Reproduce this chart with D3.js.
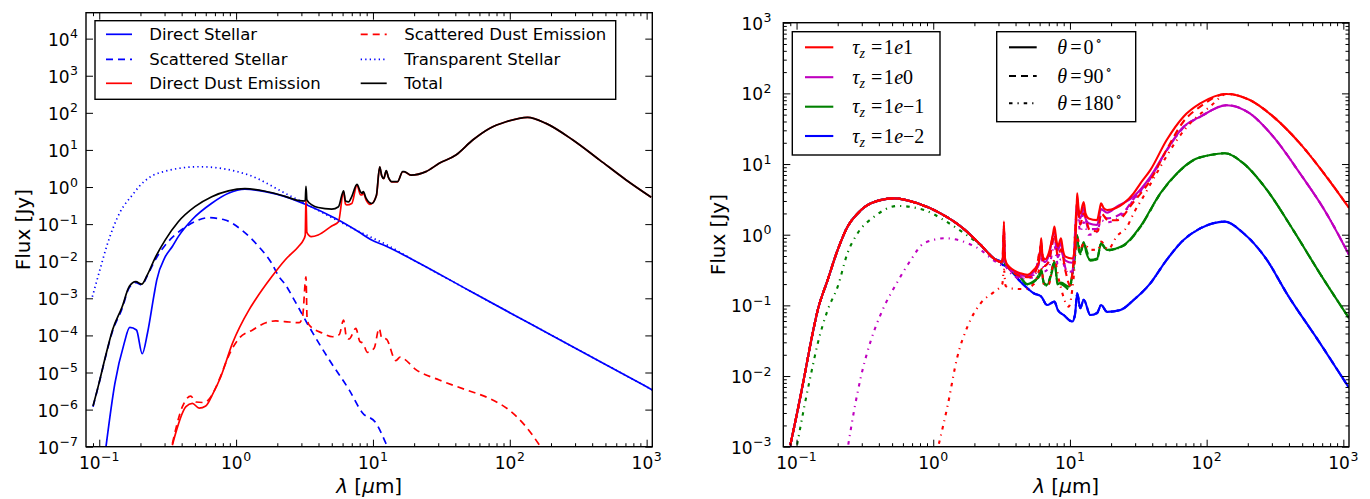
<!DOCTYPE html>
<html><head><meta charset="utf-8">
<script src="https://cdn.jsdelivr.net/npm/d3@7"></script>
<style>
body{margin:0;background:#fff}
svg{display:block}
text{font-family:"DejaVu Sans",sans-serif;fill:#000}
.math{font-family:"Liberation Serif","DejaVu Serif",serif}
</style>
</head><body>
<script>
// ---------------- DATA (wavelength in micron, flux in Jy) ----------------
const xTickExps = [-1, 0, 1, 2, 3];
const yTickExpsLeft = [-7, -6, -5, -4, -3, -2, -1, 0, 1, 2, 3, 4];
const yTickExpsRight = [-3, -2, -1, 0, 1, 2, 3];

// Left panel series
const directStellar = [[0.112,1.0e-7],[0.13,5e-6],[0.152,6.1e-5],[0.167,1.65e-4],[0.187,1.4e-4],[0.206,3.2e-5],[0.225,1.14e-4],[0.251,1.2e-3],[0.263,3.1e-3],[0.303,0.013],[0.342,0.025],[0.378,0.046],[0.474,0.129],[0.664,0.364],[0.879,0.676],[1.16,0.87],[1.63,0.75],[2.28,0.55],[3.2,0.342],[5.3,0.143],[7.85,0.062],[9.7,0.038],[12.3,0.026],[20,0.0105],[50,1.65e-3],[100,4.1e-4],[200,1.03e-4],[500,1.65e-5],[1100,3.4e-6]];
const scatteredStellar = [[0.09,1.2e-6],[0.0995,5e-6],[0.111,2.6e-5],[0.125,1.3e-4],[0.147,5.3e-4],[0.165,1.9e-3],[0.185,2.65e-3],[0.204,2.3e-3],[0.224,4e-3],[0.255,0.0105],[0.303,0.027],[0.358,0.051],[0.424,0.082],[0.5,0.117],[0.627,0.149],[0.83,0.129],[1.1,0.069],[1.46,0.025],[1.82,8.8e-3],[2.06,3.8e-3],[2.28,2.4e-3],[2.62,1e-3],[3.42,1.7e-4],[4.79,2.2e-5],[6.7,3.4e-6],[8.4,8.1e-7],[10.5,4.4e-7],[12.4,1.26e-7],[12.9,9e-8]];
const directDust = [[0.342,1.1e-7],[0.43,1.2e-6],[0.479,1.47e-6],[0.537,1.1e-6],[0.6,1.25e-6],[0.67,2.5e-6],[0.773,7.7e-6],[0.94,6.1e-5],[1.24,4.8e-4],[1.38,9e-4],[1.82,3.8e-3],[2.28,0.0108],[2.86,0.025],[3.1,0.037],[3.2,0.05],[3.24,0.5],[3.29,0.06],[3.54,0.046],[3.98,0.051],[5.0,0.089],[5.6,0.116],[6.1,0.75],[6.3,0.35],[6.45,0.33],[7.0,0.36],[7.64,1.13],[8.1,0.62],[8.3,0.61],[8.5,0.7],[8.9,0.45],[9.55,0.34],[10.6,0.58],[11.2,3.45],[11.6,1.98],[12.0,1.68],[12.5,2.72],[13.0,1.78],[13.8,1.37],[15.1,1.37],[16.5,2.58],[16.9,2.58],[19,2.09],[24.4,2.6],[30.5,4.35],[40.4,7.3],[53.6,18.5],[71,38],[94,57.5],[135,75.6],[184,52],[289,18.5],[452,5.4],[708,1.55],[1080,0.53]];
const scatteredDust = [[0.342,1.2e-7],[0.405,1.2e-6],[0.466,2.3e-6],[0.507,1.6e-6],[0.583,1.55e-6],[0.653,2.2e-6],[0.751,6.3e-6],[0.889,3e-5],[1.05,8.3e-5],[1.32,1.4e-4],[1.65,2.2e-4],[1.95,2.45e-4],[2.44,2.3e-4],[2.89,2.2e-4],[3.06,3.2e-4],[3.24,3.8e-3],[3.3,3e-4],[3.42,1.9e-4],[4.28,1.15e-4],[5.07,9.2e-5],[5.67,1.05e-4],[6.1,2.6e-4],[6.4,9e-5],[6.7,8e-5],[7.5,1.55e-4],[8.0,7e-5],[8.5,6e-5],[9.1,3.5e-5],[10.2,4.5e-5],[11.1,1.55e-4],[11.6,8.5e-5],[12.5,8e-5],[14.7,2.1e-5],[15.8,2.6e-5],[16.5,2.45e-5],[20.6,1.2e-5],[30.5,6.3e-6],[48,3.4e-6],[71,2e-6],[99,9.7e-7],[131,3.5e-7],[165,1.1e-7],[175,8e-8]];
const transparentStellar = [[0.089,1.1e-3],[0.101,5.8e-3],[0.114,0.027],[0.126,0.078],[0.141,0.2],[0.177,0.65],[0.195,1.02],[0.273,2.4],[0.537,3.52],[1.24,2.1],[2.28,0.68],[3.2,0.36],[5,0.15],[7.85,0.064],[10,0.042],[12.3,0.029],[20,0.0105],[50,1.65e-3],[100,4.1e-4],[200,1.03e-4],[500,1.65e-5],[1100,3.4e-6]];
const totalFlux = [[0.09,1.25e-6],[0.0995,5.1e-6],[0.111,2.7e-5],[0.125,1.4e-4],[0.147,5.9e-4],[0.166,2.1e-3],[0.185,2.8e-3],[0.204,2.4e-3],[0.224,4.2e-3],[0.255,0.012],[0.303,0.037],[0.378,0.116],[0.5,0.295],[0.664,0.55],[0.879,0.79],[1.16,0.9],[1.63,0.77],[2.28,0.56],[2.9,0.43],[3.2,0.42],[3.24,1.05],[3.29,0.45],[3.58,0.33],[3.98,0.28],[5.0,0.255],[5.6,0.295],[6.1,0.79],[6.3,0.42],[6.64,0.4],[7.0,0.55],[7.64,1.18],[8.1,0.75],[8.3,0.68],[8.5,0.75],[8.9,0.5],[9.8,0.36],[10.6,0.6],[11.2,3.5],[11.6,2.0],[12.0,1.7],[12.5,2.75],[13.0,1.8],[13.8,1.39],[15.1,1.39],[16.5,2.6],[16.9,2.6],[19,2.1],[24.4,2.6],[30.5,4.35],[40.4,7.3],[53.6,18.5],[71,38],[94,57.5],[135,75.6],[184,52],[289,18.5],[452,5.4],[708,1.55],[1080,0.53]];

// Right panel series
const rightUV = [[0.09,1.05e-3],[0.102,3.3e-3],[0.114,9.8e-3],[0.128,0.032],[0.143,0.086],[0.169,0.23],[0.2,0.61],[0.236,1.3],[0.28,2.0],[0.35,2.78],[0.517,3.27],[0.767,2.78],[1.13,2.0],[1.62,1.27],[2.22,0.72],[2.78,0.46],[3.11,0.41]];
const tau10_th0_IR = [[3.2,0.43],[3.25,0.6],[3.29,1.53],[3.33,0.5],[3.47,0.38],[4.35,0.284],[4.87,0.27],[5.45,0.32],[5.9,0.4],[6.1,0.7],[6.17,0.89],[6.3,0.5],[6.6,0.45],[7.0,0.55],[7.5,1.0],[7.7,1.3],[7.95,0.85],[8.15,0.68],[8.6,0.89],[8.9,0.6],[9.27,0.49],[10.4,0.46],[10.9,0.7],[11.2,2.5],[11.3,3.85],[11.6,2.2],[11.9,2.0],[12.6,2.9],[13.0,2.0],[13.7,1.7],[15.8,1.61],[16.5,2.3],[16.9,2.78],[17.6,2.4],[18.7,2.24],[24.7,2.78],[29.2,3.85],[32.7,5.3],[38.7,8.2],[51,21.9],[67.7,46.8],[89.8,72],[140,98],[207,80.5],[307,46.8],[481,19.6],[753,6.6],[1100,2.4]];
const tau10_th90_IR = [[3.2,0.42],[3.29,1.2],[3.35,0.42],[3.47,0.37],[4.35,0.26],[5.0,0.25],[5.6,0.3],[6.17,0.7],[6.44,0.36],[7.0,0.42],[7.7,1.0],[8.15,0.5],[8.6,0.62],[9.3,0.3],[10.0,0.19],[10.6,0.4],[11.3,2.8],[11.9,1.4],[12.6,2.0],[14,1.15],[16,1.12],[16.9,2.0],[19,1.6],[22,1.6],[29.2,2.9],[38.7,5.9],[51,16],[67.7,40],[89.8,65],[140,98],[207,80.5],[307,46.8],[481,19.6],[753,6.6],[1100,2.4]];
const tau10_th180 = [[1.1,1.1e-3],[1.27,3.7e-3],[1.5,0.0186],[1.78,0.05],[2.22,0.107],[2.78,0.155],[3.2,0.2],[3.29,0.32],[3.38,0.19],[3.68,0.174],[4.6,0.17],[5.45,0.2],[6.17,0.35],[6.44,0.2],[7.0,0.2],[7.7,0.44],[8.3,0.23],[9.8,0.096],[10.6,0.23],[11.3,0.93],[11.9,0.61],[12.6,0.75],[14.1,0.61],[16.2,0.62],[16.9,0.8],[19,0.62],[22,0.95],[26.2,1.3],[29.2,2.0],[34.6,3.5],[45.8,9.1],[60.7,22],[80,42],[106,65],[140,98],[207,80.5],[307,46.8],[481,19.6],[753,6.6],[1100,2.4]];
const tau1_th0_IR = [[3.2,0.41],[3.25,0.55],[3.29,1.35],[3.33,0.47],[3.47,0.36],[4.35,0.27],[4.87,0.255],[5.45,0.3],[5.9,0.37],[6.17,0.78],[6.3,0.46],[6.6,0.41],[7.0,0.5],[7.7,1.12],[7.95,0.75],[8.15,0.6],[8.6,0.77],[8.9,0.52],[9.27,0.43],[10.4,0.4],[10.9,0.62],[11.3,3.3],[11.6,1.9],[11.9,1.7],[12.6,2.45],[13.0,1.7],[13.7,1.45],[15.8,1.37],[16.9,2.3],[18.7,2.05],[22,2.5],[29.2,3.47],[38.7,6.6],[51,15.8],[67.7,33.6],[89.8,46.8],[140,68],[207,52],[307,24.4],[481,7.4],[753,2.0],[1100,0.52]];
const tau1_th90_IR = [[3.2,0.4],[3.29,1.1],[3.35,0.4],[3.47,0.36],[4.35,0.25],[5.45,0.27],[6.17,0.6],[6.44,0.36],[7.0,0.42],[7.7,0.9],[8.15,0.48],[8.6,0.6],[9.5,0.3],[10.4,0.3],[11.3,2.6],[11.9,1.4],[12.6,2.0],[13.7,1.2],[15.8,1.2],[16.9,1.9],[18.7,1.7],[24.7,2.1],[29.2,3.2],[38.7,6.3],[51,15.5],[67.7,33],[89.8,46.5],[140,68],[207,52],[307,24.4],[481,7.4],[753,2.0],[1100,0.52]];
const tau1_th180 = [[0.239,1.07e-3],[0.264,3.3e-3],[0.296,9.8e-3],[0.35,0.032],[0.426,0.086],[0.548,0.216],[0.686,0.44],[0.857,0.76],[1.23,0.89],[1.78,0.76],[2.22,0.61],[2.78,0.43],[3.2,0.37],[3.29,0.8],[3.38,0.36],[4.35,0.24],[5.45,0.25],[6.17,0.5],[6.44,0.3],[7.0,0.34],[7.7,0.7],[8.15,0.38],[8.6,0.45],[9.5,0.3],[10.4,0.28],[11.3,2.0],[11.9,1.1],[12.6,1.5],[13.7,1.0],[15.8,1.1],[16.9,1.6],[18.7,1.5],[24.7,2.0],[29.2,3.1],[38.7,6.2],[51,15.5],[67.7,33],[89.8,46.5],[140,68],[207,52],[307,24.4],[481,7.4],[753,2.0],[1100,0.52]];
const tau01_th0_IR = [[3.2,0.4],[3.29,0.6],[3.35,0.39],[3.47,0.36],[4.35,0.25],[4.87,0.2],[5.6,0.23],[6.0,0.26],[6.17,0.32],[6.44,0.21],[6.8,0.195],[7.4,0.3],[7.7,0.42],[8.15,0.2],[8.6,0.21],[9.8,0.184],[10.7,0.4],[11.3,0.99],[11.6,0.6],[11.9,0.55],[12.6,0.79],[13.2,0.55],[14.1,0.44],[15.8,0.46],[16.9,0.76],[18.7,0.61],[24.7,0.71],[32.7,1.3],[45.8,3.85],[60.7,7.4],[80,11.4],[106,13.4],[136,14.2],[186,10.2],[276,4.3],[430,1.16],[673,0.284],[1100,0.066]];
const tau01_th90_IR = [[3.2,0.4],[3.29,0.55],[3.35,0.39],[3.47,0.355],[4.35,0.245],[4.87,0.197],[5.6,0.225],[6.17,0.3],[6.44,0.205],[6.8,0.19],[7.7,0.4],[8.15,0.195],[8.6,0.2],[9.8,0.17],[10.7,0.38],[11.3,0.95],[11.9,0.53],[12.6,0.76],[14.1,0.43],[15.8,0.45],[16.9,0.74],[18.7,0.6],[24.7,0.7],[32.7,1.28],[45.8,3.8],[60.7,7.3],[80,11.3],[106,13.4],[136,14.2],[186,10.2],[276,4.3],[430,1.16],[673,0.284],[1100,0.066]];
const tau01_th180_UV = [[0.101,1.07e-3],[0.114,3.7e-3],[0.128,0.011],[0.143,0.029],[0.169,0.086],[0.2,0.184],[0.236,0.55],[0.28,1.05],[0.37,1.8],[0.548,2.55],[0.857,2.24],[1.2,1.6],[1.68,1.05],[2.22,0.7],[2.78,0.46],[3.11,0.41]];
const tau001_IR = [[3.2,0.38],[3.47,0.35],[4.35,0.216],[5.45,0.148],[6.17,0.133],[6.8,0.101],[7.7,0.113],[8.15,0.086],[9.0,0.073],[10.4,0.059],[10.9,0.075],[11.3,0.148],[11.9,0.091],[12.6,0.12],[14.1,0.073],[15.8,0.078],[16.9,0.101],[18.7,0.081],[23.4,0.086],[29.2,0.119],[38.7,0.205],[51,0.44],[67.7,0.84],[89.8,1.23],[136,1.53],[186,1.05],[276,0.44],[385,0.148],[673,0.0295],[1100,6.8e-3]];

const leftLegend = ["Direct Stellar","Scattered Stellar","Direct Dust Emission","Scattered Dust Emission","Transparent Stellar","Total"];
const tauLabels = ["1","0","\u22121","\u22122"];
const thetaLabels = ["0","90","180"];

// ---------------- LAYOUT ----------------
const W = 1370, H = 499;
const L = {x0:86, x1:652.3, y0:12.7, y1:446.7};
const R = {x0:783.3, x1:1349, y0:22.7, y1:446.7};
const xDomain = [0.08, 1100];
const xL = d3.scaleLog().domain(xDomain).range([L.x0, L.x1]);
const yL = d3.scaleLog().domain([1e-7, 5e4]).range([L.y1, L.y0]);
const xR = d3.scaleLog().domain(xDomain).range([R.x0, R.x1]);
const yR = d3.scaleLog().domain([1e-3, 1e3]).range([R.y1, R.y0]);

const BLUE = "#0000ff", RED = "#ff0000", MAG = "#bf00bf", GREEN = "#008000", BLACK = "#000000";
const DASH = "7,5", DOT = "1.3,3.2", DASHDOT = "3.5,5,1.2,5";
const TICK_FS = 17, SUP_FS = 12.5, LAB_FS = 20, LEG_FS = 16.5, MATH_FS = 20;

const svg = d3.select("body").append("svg").attr("width", W).attr("height", H);
const defs = svg.append("defs");
[["clipL", L], ["clipR", R]].forEach(([id, P]) => {
  defs.append("clipPath").attr("id", id).append("rect")
    .attr("x", P.x0).attr("y", P.y0).attr("width", P.x1 - P.x0).attr("height", P.y1 - P.y0);
});

function minorTicks(lo, hi) {
  const out = [];
  for (let e = -3; e <= 5; e++) for (let k = 2; k <= 9; k++) {
    const v = k * Math.pow(10, e);
    if (v > lo && v < hi) out.push(v);
  }
  return out;
}
function expStr(e) { return e < 0 ? "\u2212" + Math.abs(e) : String(e); }

function drawAxes(P, x, y, yExps, yMinor, yLabelRight, yLabelX) {
  const g = svg.append("g");
  const xMaj = xTickExps.map(e => Math.pow(10, e));
  const xMin = minorTicks(xDomain[0], xDomain[1]);
  const yMaj = yExps.map(e => Math.pow(10, e));
  const yMin = yMinor ? minorTicks(y.domain()[0], y.domain()[1]) : [];
  const specs = [
    [d3.axisBottom, x, `translate(0,${P.y1})`, xMaj, xMin],
    [d3.axisTop, x, `translate(0,${P.y0})`, xMaj, xMin],
    [d3.axisLeft, y, `translate(${P.x0},0)`, yMaj, yMin],
    [d3.axisRight, y, `translate(${P.x1},0)`, yMaj, yMin]
  ];
  specs.forEach(([fn, sc, tr, maj, mn]) => {
    const a1 = g.append("g").attr("transform", tr).call(fn(sc).tickValues(maj).tickSize(-7).tickFormat(""));
    const a2 = g.append("g").attr("transform", tr).call(fn(sc).tickValues(mn).tickSize(-3.5).tickFormat(""));
    [a1, a2].forEach(a => { a.select(".domain").remove(); a.selectAll("line").attr("stroke", "#000").attr("stroke-width", 1); });
  });
  g.append("rect").attr("x", P.x0).attr("y", P.y0).attr("width", P.x1 - P.x0).attr("height", P.y1 - P.y0)
    .attr("fill", "none").attr("stroke", "#000").attr("stroke-width", 1.4);
  // x tick labels
  xTickExps.forEach(e => {
    const t = g.append("text").attr("x", x(Math.pow(10, e))).attr("y", 468.5).attr("text-anchor", "middle").attr("font-size", TICK_FS);
    t.append("tspan").text("10");
    t.append("tspan").attr("dy", -7.5).attr("dx", 0.5).attr("font-size", SUP_FS).text(expStr(e));
  });
  // y tick labels
  yExps.forEach(e => {
    const t = g.append("text").attr("x", yLabelRight).attr("y", y(Math.pow(10, e)) + 7).attr("text-anchor", "end").attr("font-size", TICK_FS);
    t.append("tspan").text("10");
    t.append("tspan").attr("dy", -7.5).attr("dx", 0.5).attr("font-size", SUP_FS).text(expStr(e));
  });
  // axis labels
  g.append("text").attr("transform", `translate(${yLabelX},${(P.y0 + P.y1) / 2}) rotate(-90)`)
    .attr("text-anchor", "middle").attr("font-size", LAB_FS).text("Flux [Jy]");
  const xl = g.append("text").attr("x", (P.x0 + P.x1) / 2).attr("y", 492.5).attr("text-anchor", "middle").attr("font-size", LAB_FS);
  xl.append("tspan").attr("font-style", "italic").text("λ");
  xl.append("tspan").text(" [");
  xl.append("tspan").attr("font-style", "italic").text("μ");
  xl.append("tspan").text("m]");
}

function drawSeries(clip, x, y, data, color, dash, width) {
  const line = d3.line().x(d => x(d[0])).y(d => y(d[1])).curve(d3.curveMonotoneX);
  svg.append("path").attr("clip-path", `url(#${clip})`).attr("d", line(data))
    .attr("fill", "none").attr("stroke", color).attr("stroke-width", width)
    .attr("stroke-dasharray", dash || null).attr("stroke-linejoin", "round");
}

// ---------------- LEFT PANEL ----------------
const LW = 1.7;
drawSeries("clipL", xL, yL, directStellar, BLUE, null, LW);
drawSeries("clipL", xL, yL, scatteredStellar, BLUE, DASH, LW);
drawSeries("clipL", xL, yL, directDust, RED, null, LW);
drawSeries("clipL", xL, yL, scatteredDust, RED, DASH, LW);
drawSeries("clipL", xL, yL, transparentStellar, BLUE, DOT, LW);
drawSeries("clipL", xL, yL, totalFlux, BLACK, null, LW);
drawAxes(L, xL, yL, yTickExpsLeft, false, 78, 30);

// left legend
const legL = svg.append("g");
legL.append("rect").attr("x", 95).attr("y", 20.7).attr("width", 520.7).attr("height", 78.6)
  .attr("fill", "#fff").attr("stroke", "#000").attr("stroke-width", 1.4);
const legStyles = [[BLUE, null], [BLUE, DASH], [RED, null], [RED, DASH], [BLUE, DOT], [BLACK, null]];
const legRows = [34.3, 59.3, 83.3];
leftLegend.forEach((name, i) => {
  const col = Math.floor(i / 3), row = i % 3;
  const lx = col === 0 ? 106 : 360.7, tx = col === 0 ? 149.3 : 404.3;
  const yy = legRows[row];
  legL.append("line").attr("x1", lx).attr("x2", lx + 26).attr("y1", yy).attr("y2", yy)
    .attr("stroke", legStyles[i][0]).attr("stroke-width", LW).attr("stroke-dasharray", legStyles[i][1]);
  legL.append("text").attr("x", tx).attr("y", yy + 6).attr("font-size", LEG_FS).text(name);
});

// ---------------- RIGHT PANEL ----------------
const RW = 2.1;
const rightSeries = [
  [rightUV.concat(tau001_IR), BLUE, DASHDOT],
  [rightUV.concat(tau001_IR), BLUE, DASH],
  [rightUV.concat(tau001_IR), BLUE, null],
  [tau01_th180_UV.concat(tau01_th90_IR), GREEN, DASHDOT],
  [rightUV.concat(tau01_th90_IR), GREEN, DASH],
  [rightUV.concat(tau01_th0_IR), GREEN, null],
  [tau1_th180, MAG, DASHDOT],
  [rightUV.concat(tau1_th90_IR), MAG, DASH],
  [rightUV.concat(tau1_th0_IR), MAG, null],
  [tau10_th180, RED, DASHDOT],
  [rightUV.concat(tau10_th90_IR), RED, DASH],
  [rightUV.concat(tau10_th0_IR), RED, null]
];
rightSeries.forEach(([d, c, dash]) => drawSeries("clipR", xR, yR, d, c, dash, RW));
drawAxes(R, xR, yR, yTickExpsRight, true, 771.5, 725);

// tau legend
const legT = svg.append("g");
legT.append("rect").attr("x", 792.3).attr("y", 31.7).attr("width", 147.7).attr("height", 123.3)
  .attr("fill", "#fff").attr("stroke", "#000").attr("stroke-width", 1.4);
const tauColors = [RED, MAG, GREEN, BLUE];
const tauRows = [47.3, 77.2, 106.7, 136];
tauLabels.forEach((lab, i) => {
  const yy = tauRows[i];
  legT.append("line").attr("x1", 805).attr("x2", 833.3).attr("y1", yy).attr("y2", yy)
    .attr("stroke", tauColors[i]).attr("stroke-width", RW);
  const t = legT.append("text").attr("class", "math").attr("x", 852.3).attr("y", yy + 6.5).attr("font-size", MATH_FS);
  t.append("tspan").attr("font-style", "italic").text("τ");
  t.append("tspan").attr("font-style", "italic").attr("font-size", 14).attr("dy", 4).text("z");
  t.append("tspan").attr("dy", -4).attr("dx", 6).text("=");
  t.append("tspan").attr("dx", 1.5).text("1");
  t.append("tspan").attr("font-style", "italic").attr("dx", 0.5).text("e");
  t.append("tspan").text(lab);
});

// theta legend
const legA = svg.append("g");
legA.append("rect").attr("x", 996.7).attr("y", 31.7).attr("width", 139).attr("height", 90)
  .attr("fill", "#fff").attr("stroke", "#000").attr("stroke-width", 1.4);
const thRows = [47.3, 76, 103.3];
const thDash = [null, DASH, DASHDOT];
thetaLabels.forEach((lab, i) => {
  const yy = thRows[i];
  legA.append("line").attr("x1", 1009).attr("x2", 1036.7).attr("y1", yy).attr("y2", yy)
    .attr("stroke", BLACK).attr("stroke-width", RW).attr("stroke-dasharray", thDash[i]);
  const t = legA.append("text").attr("class", "math").attr("x", 1057.3).attr("y", yy + 6.5).attr("font-size", MATH_FS);
  t.append("tspan").attr("font-style", "italic").text("θ");
  t.append("tspan").attr("dx", 3).text("=");
  t.append("tspan").attr("dx", 2).text(lab);
  t.append("tspan").attr("dy", -8.5).attr("dx", 2).attr("font-size", 13).text("∘");
});
</script>
</body></html>
